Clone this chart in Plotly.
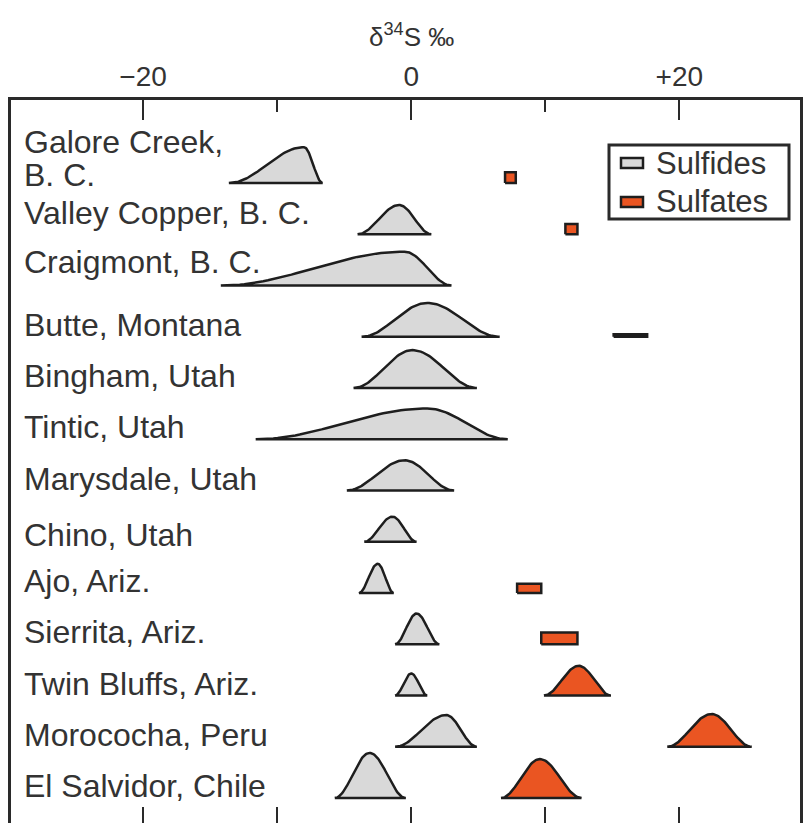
import numpy as np
import plotly.graph_objects as go

# ---------------- data ----------------
locations = [
    "Galore Creek,\nB. C.", "Valley Copper, B. C.", "Craigmont, B. C.",
    "Butte, Montana", "Bingham, Utah", "Tintic, Utah", "Marysdale, Utah",
    "Chino, Utah", "Ajo, Ariz.", "Sierrita, Ariz.", "Twin Bluffs, Ariz.",
    "Morococha, Peru", "El Salvidor, Chile",
]
# sulfide δ34S distributions (‰): minimum, mode, maximum, relative peak frequency
sulfide_min = [-13.6, -4.0, -14.2, -3.7, -4.3, -11.6, -4.8, -3.5, -3.9, -1.2, -1.2, -1.2, -5.7]
sulfide_mode = [-8.0, -0.9, -0.5, 1.2, 0.1, 1.2, -0.5, -1.4, -2.5, 0.4, 0.0, 2.6, -3.1]
sulfide_max = [-6.6, 1.5, 3.0, 6.6, 4.9, 7.2, 3.2, 0.4, -1.3, 2.1, 1.2, 4.9, -0.4]
sulfide_freq = [0.70, 0.57, 0.66, 0.66, 0.74, 0.60, 0.59, 0.49, 0.57, 0.60, 0.43, 0.62, 0.88]

# sulfate δ34S (‰): row index, minimum, mode, maximum, relative peak frequency
sulfate_row = [0, 1, 3, 8, 9, 10, 11, 12]
sulfate_min = [7.0, 11.5, 15.1, 7.9, 9.7, 9.9, 19.1, 6.7]
sulfate_mode = [7.4, 11.95, 16.3, 8.8, 11.0, 12.5, 22.4, 9.6]
sulfate_max = [7.8, 12.4, 17.6, 9.7, 12.4, 14.9, 25.4, 12.7]
sulfate_freq = [0.21, 0.20, 0.05, 0.18, 0.23, 0.58, 0.64, 0.76]
sulfate_is_range = [True, True, True, True, True, False, False, False]

legend_names = ["Sulfides", "Sulfates"]

tick_vals = [-20, 0, 20]
tick_text = ["\u221220", "0", "+20"]
minor_tick_vals = [-20, -10, 0, 10, 20]

# ---------------- styling ----------------
SULFIDE_FILL = "#d9d9d9"
SULFATE_FILL = "#ea5522"
OUTLINE = "#1e1e1e"
AXIS = "#2a2a2a"
TEXT = "#333333"
FONT = "Liberation Sans, Arial, sans-serif"
W, H = 808, 823
PL, PR, PT, PB = 11, 800, 100, 823   # plot area in pixels
LABEL_NUDGE = {0: -4, 1: 9, 2: 12, 7: -5}   # px, per row label
LINE_PX = 33                                 # spacing of wrapped label lines


def px(xp):
    return (xp - PL) / (PR - PL)


def py(yp):
    return 1 - (yp - PT) / (PB - PT)


def bump(lo, mode, hi, h, base, n=40):
    u = np.linspace(0, 1, n)
    f = 0.5 - 0.5 * np.cos(np.pi * u)
    xl = lo + u * (mode - lo)
    xr = mode + u * (hi - mode)
    yl = base + h * f
    yr = base + h * f[::-1]
    xs = np.concatenate([xl, xr[1:], [lo]])
    ys = np.concatenate([yl, yr[1:], [base]])
    return xs, ys


def rect(lo, hi, h, base):
    return [lo, lo, hi, hi, lo], [base, base + h, base + h, base, base]


fig = go.Figure()

for i in range(len(locations)):
    xs, ys = bump(sulfide_min[i], sulfide_mode[i], sulfide_max[i], sulfide_freq[i], -i)
    fig.add_trace(go.Scatter(
        x=xs, y=ys, mode="lines", fill="toself", fillcolor=SULFIDE_FILL,
        line=dict(color=OUTLINE, width=2.5), name=legend_names[0],
        showlegend=False, hoverinfo="skip",
    ))

for k, r in enumerate(sulfate_row):
    if sulfate_is_range[k]:
        xs, ys = rect(sulfate_min[k], sulfate_max[k], sulfate_freq[k], -r)
    else:
        xs, ys = bump(sulfate_min[k], sulfate_mode[k], sulfate_max[k], sulfate_freq[k], -r)
    fig.add_trace(go.Scatter(
        x=xs, y=ys, mode="lines", fill="toself", fillcolor=SULFATE_FILL,
        line=dict(color=OUTLINE, width=2.5), name=legend_names[1],
        showlegend=False, hoverinfo="skip",
    ))

# invisible trace for the bottom tick axis
fig.add_trace(go.Scatter(x=[0], y=[0], xaxis="x2", mode="markers",
                         marker=dict(opacity=0), showlegend=False, hoverinfo="skip"))

# row labels
for i, lab in enumerate(locations):
    lines = lab.split("\n")
    nl = len(lines)
    for j, t in enumerate(lines):
        fig.add_annotation(
            x=0, xref="paper", xshift=11, xanchor="left",
            y=-i, yref="y", yanchor="middle",
            yshift=12 + (nl - 1 - j) * LINE_PX + LABEL_NUDGE.get(i, 0),
            text=t, showarrow=False, font=dict(family=FONT, size=32, color=TEXT),
        )

# axis title
fig.add_annotation(
    x=0, xref="x", y=py(35), yref="paper", yanchor="middle",
    text="\u03b4<sup>34</sup>S \u2030", showarrow=False,
    font=dict(family=FONT, size=26, color=TEXT),
)

# custom legend (box, swatches, names)
shapes = [
    dict(type="rect", xref="paper", yref="paper", x0=px(609), x1=px(789),
         y0=py(219), y1=py(145), line=dict(color=AXIS, width=3), fillcolor="white"),
]
for name, fill, yc in zip(legend_names, [SULFIDE_FILL, SULFATE_FILL], [163, 202]):
    shapes.append(dict(type="rect", xref="paper", yref="paper",
                       x0=px(621), x1=px(643), y0=py(yc + 5), y1=py(yc - 5),
                       line=dict(color=OUTLINE, width=2.5), fillcolor=fill))
    fig.add_annotation(x=px(654), xref="paper", xanchor="left",
                       y=py(yc), yref="paper", yanchor="middle",
                       text=name, showarrow=False,
                       font=dict(family=FONT, size=31, color=TEXT))

XR = [-29.85, 29.0]
fig.update_layout(
    width=W, height=H,
    margin=dict(l=PL, r=W - PR, t=PT, b=H - PB),
    paper_bgcolor="white", plot_bgcolor="white",
    font=dict(family=FONT, color=TEXT),
    showlegend=False,
    shapes=shapes,
    xaxis=dict(
        range=XR, side="top", showgrid=False, zeroline=False,
        showline=True, linecolor=AXIS, linewidth=3, mirror=False,
        ticks="inside", ticklen=20, tickwidth=2, tickcolor=AXIS,
        tickvals=tick_vals, ticktext=tick_text,
        tickfont=dict(family=FONT, size=28, color=TEXT),
        minor=dict(tickvals=minor_tick_vals, ticks="inside", ticklen=12,
                   tickwidth=2, tickcolor=AXIS),
    ),
    xaxis2=dict(
        range=XR, overlaying="x", side="bottom", matches="x",
        showgrid=False, zeroline=False, showline=False,
        ticks="inside", ticklen=16, tickwidth=2, tickcolor=AXIS,
        tickvals=minor_tick_vals, showticklabels=False,
    ),
    yaxis=dict(
        range=[-12.487, 1.62], showgrid=False, zeroline=False,
        showticklabels=False, ticks="",
        showline=True, linecolor=AXIS, linewidth=3, mirror=True,
    ),
)

fig.write_html("out.html", config={"displayModeBar": False},
               post_script="document.body.style.margin='0';document.body.style.padding='0';")
